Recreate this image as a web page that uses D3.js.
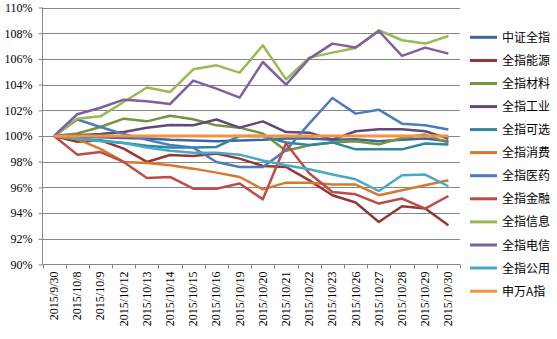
<!DOCTYPE html>
<html>
<head>
<meta charset="utf-8">
<script src="https://cdn.jsdelivr.net/npm/d3@7"></script>
<style>
html,body{margin:0;padding:0;background:#fff;}
svg{display:block;}
</style>
</head>
<body>
<svg id="chart" width="557" height="339"></svg>
<script>
const dates = ["2015/9/30","2015/10/8","2015/10/9","2015/10/12","2015/10/13","2015/10/14","2015/10/15","2015/10/16","2015/10/19","2015/10/20","2015/10/21","2015/10/22","2015/10/23","2015/10/26","2015/10/27","2015/10/28","2015/10/29","2015/10/30"];
const seriesNames = ["中证全指","全指能源","全指材料","全指工业","全指可选","全指消费","全指医药","全指金融","全指信息","全指电信","全指公用","申万A指"];
const zzqz = [100, 99.95, 99.9, 99.85, 99.8, 99.7, 99.65, 99.6, 99.65, 99.7, 99.8, 99.8, 99.7, 99.75, 99.6, 99.7, 99.8, 99.6];
const nengyuan = [100, 99.55, 99.67, 99.02, 97.98, 98.52, 98.44, 98.63, 98.24, 97.67, 97.59, 96.55, 95.39, 94.82, 93.31, 94.53, 94.35, 93.05];
const cailiao = [100, 100.19, 100.7, 101.35, 101.14, 101.58, 101.3, 100.83, 100.65, 100.19, 98.85, 99.28, 99.49, 99.59, 99.35, 99.85, 100.11, 99.46];
const gongye = [100, 100.05, 100.15, 100.31, 100.65, 100.85, 100.83, 101.28, 100.65, 101.14, 100.31, 100.26, 99.72, 100.37, 100.52, 100.52, 100.37, 99.8];
const kexuan = [100, 99.8, 99.65, 99.45, 99.25, 99.1, 99.1, 99.15, 100.0, 100.0, 99.5, 99.3, 99.5, 98.96, 98.96, 98.96, 99.41, 99.33];
const xiaofei = [100, 99.75, 99.0, 97.98, 97.9, 97.72, 97.46, 97.15, 96.81, 95.85, 96.37, 96.37, 96.22, 96.22, 95.39, 95.78, 96.16, 96.55];
const yiyao = [100, 101.28, 100.7, 100.15, 99.7, 99.3, 99.1, 97.98, 97.59, 97.59, 98.9, 100.96, 102.96, 101.74, 102.05, 100.96, 100.83, 100.5];
const jinrong = [100, 98.55, 98.75, 97.98, 96.73, 96.81, 95.9, 95.9, 96.3, 95.07, 99.41, 97.1, 95.64, 95.46, 94.74, 95.13, 94.35, 95.33];
const xinxi = [100, 101.35, 101.53, 102.65, 103.77, 103.42, 105.19, 105.5, 104.93, 107.06, 104.41, 106.1, 106.49, 106.85, 108.23, 107.45, 107.19, 107.78];
const dianxin = [100, 101.69, 102.2, 102.83, 102.7, 102.49, 104.31, 103.69, 102.99, 105.76, 104.0, 106.02, 107.19, 106.88, 108.17, 106.23, 106.88, 106.41];
const gongyong = [100, 99.8, 99.6, 99.45, 99.1, 98.85, 98.7, 98.7, 98.55, 98.1, 97.72, 97.41, 97.0, 96.63, 95.72, 96.94, 97.0, 96.09];
const swa = [100, 100, 100, 100, 100, 100, 100, 100, 100, 100, 100, 100, 100, 100, 100, 100, 100, 100];
const yTicks = [90, 92, 94, 96, 98, 100, 102, 104, 106, 108, 110];
const colors = ["#3B679E","#953735","#77933C","#604A7B","#31859C","#D9772E","#4A7EBB","#BE4B48","#98B954","#7D60A0","#46AAC5","#F69240"];

const allSeries = [zzqz, nengyuan, cailiao, gongye, kexuan, xiaofei, yiyao, jinrong, xinxi, dianxin, gongyong, swa];

(function () {
const svg = d3.select("#chart");
const pLeft = 42.5, pRight = 460, pTop = 7.5, pBottom = 264.5;

const xBand = d3.scaleBand().domain(dates).range([pLeft, pRight]).paddingInner(0).paddingOuter(0);
const xPt = d3.scalePoint().domain(dates).range([pLeft, pRight]).padding(0.5);
const y = d3.scaleLinear().domain([90, 110]).range([pBottom, pTop]);

const gridColor = "#868686";

// gridlines
svg.append("g").selectAll("line").data(yTicks.filter(d => d !== 90)).join("line")
  .attr("x1", pLeft).attr("x2", pRight)
  .attr("y1", d => Math.round(y(d)) + 0.5).attr("y2", d => Math.round(y(d)) + 0.5)
  .attr("stroke", gridColor).attr("stroke-width", 1);

// y axis
const yAxis = d3.axisLeft(y).tickValues(yTicks).tickSize(4).tickPadding(6).tickFormat(d => d + "%");
const gy = svg.append("g").attr("transform", `translate(${pLeft},0)`).call(yAxis);
gy.select(".domain").attr("stroke", gridColor).attr("d", `M0,${pTop}V${pBottom}`);
gy.selectAll(".tick line").attr("stroke", gridColor);
gy.selectAll(".tick text").attr("font-family", "'Liberation Serif','Times New Roman',serif").attr("font-size", 12).attr("fill", "#000");

// x axis line with ticks at band edges
const gx = svg.append("g");
gx.append("line").attr("x1", pLeft).attr("x2", pRight).attr("y1", pBottom).attr("y2", pBottom).attr("stroke", gridColor);
const edges = dates.map(d => xBand(d)).concat([pRight]);
gx.selectAll("line.tk").data(edges).join("line").attr("class", "tk")
  .attr("x1", d => Math.round(d) + 0.5).attr("x2", d => Math.round(d) + 0.5)
  .attr("y1", pBottom).attr("y2", pBottom + 4).attr("stroke", gridColor);
gx.selectAll("text").data(dates).join("text")
  .attr("transform", d => `translate(${xPt(d) + 4},${pBottom + 7}) rotate(-90)`)
  .attr("text-anchor", "end")
  .attr("font-family", "'Liberation Serif','Times New Roman',serif")
  .attr("font-size", 12).attr("fill", "#000")
  .text(d => d);

// lines
const line = d3.line().x((d, i) => xPt(dates[i])).y(d => y(d));
svg.append("g").selectAll("path").data(allSeries).join("path")
  .attr("d", d => line(d))
  .attr("fill", "none")
  .attr("stroke", (d, i) => colors[i])
  .attr("stroke-width", (d, i) => i === 11 ? 3 : 2.5)
  .attr("stroke-linejoin", "round");

// legend
const legY = [37.3, 60.5, 83.5, 106.6, 129.6, 152.6, 175.7, 198.8, 221.9, 245, 268, 291.2];
const lg = svg.append("g");
seriesNames.forEach((name, i) => {
  lg.append("line").attr("x1", 470).attr("x2", 497).attr("y1", legY[i]).attr("y2", legY[i])
    .attr("stroke", colors[i]).attr("stroke-width", 3);
  lg.append("text").attr("x", 502).attr("y", legY[i] + 4.5)
    .attr("font-family", "'Noto Sans CJK SC','Noto Sans',sans-serif")
    .attr("font-size", 12).attr("fill", "#000")
    .text(name);
});
})();
</script>
</body>
</html>
